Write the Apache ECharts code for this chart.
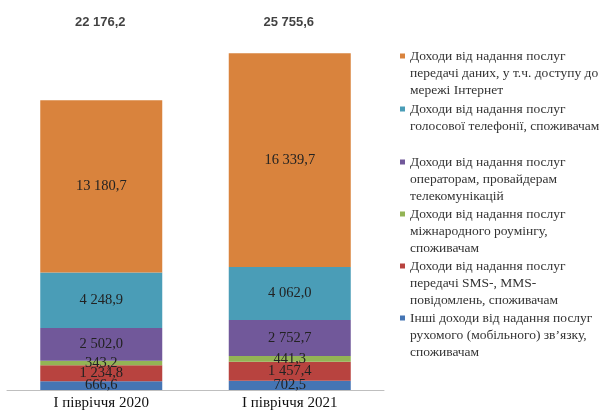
<!DOCTYPE html>
<html>
<head>
<meta charset="utf-8">
<script src="https://cdn.jsdelivr.net/npm/echarts@6/dist/echarts.min.js"></script>
<style>
  html, body { margin: 0; padding: 0; background: #fff; }
  #chart { width: 603px; height: 412px; }
</style>
</head>
<body>
<div id="chart"></div>
<script>
const categories = ['І півріччя 2020', 'І півріччя 2021']

// from bottom of the stack to top
const seriesNames = [
  'Інші доходи від надання послуг\nрухомого (мобільного) зв’язку,\nспоживачам',
  'Доходи від надання послуг\nпередачі SMS-, MMS-\nповідомлень, споживачам',
  'Доходи від надання послуг\nміжнародного роумінгу,\nспоживачам',
  'Доходи від надання послуг\nоператорам, провайдерам\nтелекомунікацій',
  'Доходи від надання послуг\nголосової телефонії, споживачам',
  'Доходи від надання послуг\nпередачі даних, у т.ч. доступу до\nмережі Інтернет'
]
const otherMobile = [666.6, 702.5]
const smsMms = [1234.8, 1457.4]
const roaming = [343.2, 441.3]
const operators = [2502.0, 2752.7]
const voice = [4248.9, 4062.0]
const dataInternet = [13180.7, 16339.7]

const colors = ['#4575B4', '#B8433F', '#93B455', '#71589A', '#4A9DB7', '#D9833D']

const seriesValues = [otherMobile, smsMms, roaming, operators, voice, dataInternet]
const totals = categories.map((c, i) => seriesValues.reduce((s, arr) => s + arr[i], 0))

// 1 234,8 style
function fmt(v) {
  const parts = v.toFixed(1).split('.')
  return parts[0].replace(/\B(?=(\d{3})+(?!\d))/g, ' ') + ',' + parts[1]
}

const yMax = 28000

const chart = echarts.init(document.getElementById('chart'))

const series = seriesValues.map((vals, k) => ({
  name: seriesNames[k],
  type: 'bar',
  stack: 'total',
  barWidth: 122,
  data: vals,
  itemStyle: { color: colors[k] },
  label: {
    show: true,
    position: 'inside',
    formatter: p => fmt(p.value),
    fontFamily: 'Liberation Serif',
    fontSize: 14.5,
    color: '#222'
  },
  emphasis: { disabled: true }
}))

// totals over the bars
series.push({
  type: 'scatter',
  data: categories.map(() => yMax),
  symbolSize: 0,
  clip: false,
  label: {
    show: true,
    position: 'inside',
    offset: [-1, -2],
    formatter: p => fmt(totals[p.dataIndex]),
    fontFamily: 'Liberation Sans',
    fontWeight: 'bold',
    fontSize: 13,
    color: '#111'
  }
})

// one legend per item, so the spacing can follow the picture.
// the icon box is as tall as the text, the square sits at the first line
const legendFirstLine = [56, 109, 162, 214, 266, 318]
const lineH = 17
const legends = legendFirstLine.map((y, j) => {
  const k = seriesNames.length - 1 - j
  const n = seriesNames[k].split('\n').length
  const h = lineH * n
  return {
    data: [seriesNames[k]],
    left: 400,
    top: y - lineH / 2,
    orient: 'vertical',
    icon: 'path://M0,0h5v0h-5zM0,6h5v5h-5zM0,' + h + 'h5v0h-5z',
    itemWidth: 5,
    itemHeight: h,
    selectedMode: false,
    padding: 0,
    textStyle: {
      fontFamily: 'Liberation Serif',
      fontSize: 13.5,
      lineHeight: lineH,
      color: '#333'
    }
  }
})

chart.setOption({
  animation: false,
  grid: { left: 7, right: 219, top: 24, bottom: 22 },
  legend: legends,
  xAxis: {
    type: 'category',
    data: categories,
    axisTick: { show: false },
    axisLine: { lineStyle: { color: '#BFBFBF', width: 1 } },
    axisLabel: {
      margin: 6,
      fontFamily: 'Liberation Serif',
      fontSize: 15,
      color: '#111'
    }
  },
  yAxis: {
    type: 'value',
    min: 0,
    max: yMax,
    show: false,
    splitLine: { show: false }
  },
  series: series
})
</script>
</body>
</html>
